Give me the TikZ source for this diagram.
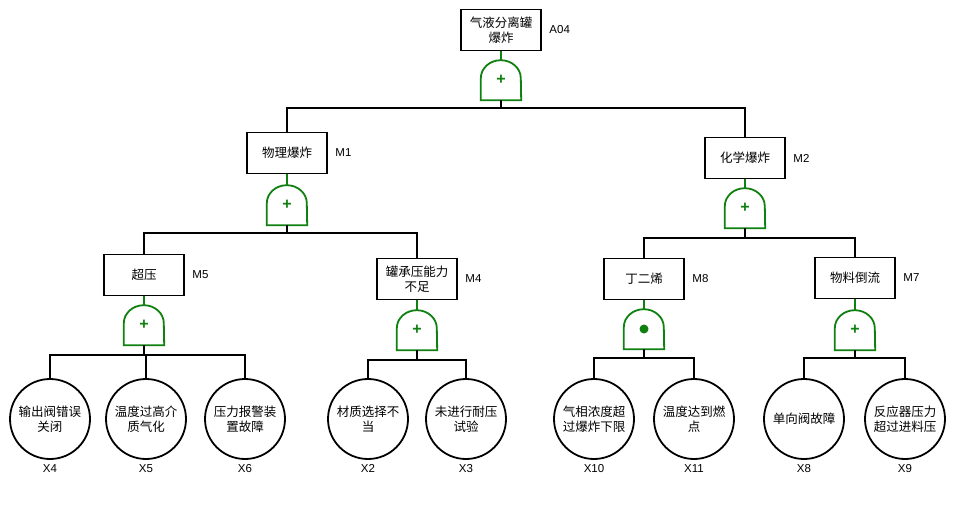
\documentclass[tikz,border=0pt]{standalone}
\usepackage{fontspec}
\setmainfont{Liberation Sans}
\newfontfamily\cjk{Noto Sans CJK SC}
\usetikzlibrary{positioning}
\definecolor{GateGreen}{RGB}{16,128,16}
\newcommand{\gateshape}[1]{\draw[gateline] (#1.south west) -- ++(0pt,22pt)
  arc[start angle=180, end angle=0, x radius=20pt, y radius=18pt] -- (#1.south east) -- cycle;}

\begin{document}
\begin{tikzpicture}[
  x=1pt, y=-1pt,
  event/.style={rectangle, draw=black, line width=1.8pt, align=center,
                minimum width=80pt, minimum height=41pt, inner sep=1pt,
                font=\cjk\fontsize{12.5}{14.5}\selectfont},
  basic/.style={circle, draw=black, line width=1.8pt, align=center,
                minimum size=80pt, inner sep=0pt,
                font=\cjk\fontsize{12.5}{14.5}\selectfont},
  orgate/.style={minimum width=40pt, minimum height=40pt, inner sep=0pt,
                 text=GateGreen, font=\bfseries\fontsize{16}{16}\selectfont},
  gateline/.style={draw=GateGreen, line width=1.8pt},
  link/.style={draw=black, line width=1.8pt},
  tag/.style={font=\fontsize{11.5}{13}\selectfont, label distance=4pt},
  leaftag/.style={font=\fontsize{11.5}{13}\selectfont, label distance=1.5pt}
]
\useasboundingbox (0,0) rectangle (954,520);

% top event
\node[event, label={[tag]right:A04}] (top) at (501,30) {气液分离罐\\爆炸};
\node[orgate] (g0) at (501,80) {+};
\gateshape{g0}
\coordinate (b0) at (501,108);

% second level
\node[event, label={[tag]right:M1}] (m1) at (287,153) {物理爆炸};
\node[orgate] (g1) at (287,205) {+};
\gateshape{g1}
\coordinate (b1) at (287,233);

\node[event, label={[tag]right:M2}] (m2) at (745,158) {化学爆炸};
\node[orgate] (g2) at (745,208) {+};
\gateshape{g2}
\coordinate (b2) at (745,238);

% third level
\node[event, label={[tag]right:M5}] (m5) at (144,275) {超压};
\node[orgate] (g5) at (144,325) {+};
\gateshape{g5}
\coordinate (b5) at (144,355);

\node[event, label={[tag]right:M4}] (m4) at (417,279) {罐承压能力\\不足};
\node[orgate] (g4) at (417,330) {+};
\gateshape{g4}
\coordinate (b4) at (417,360);

\node[event, label={[tag]right:M8}] (m8) at (644,279) {丁二烯};
\node[orgate] (g8) at (644,329) {};
\gateshape{g8}
\fill[GateGreen] (g8.center) circle (4.5pt);
\coordinate (b8) at (644,358);

\node[event, label={[tag]right:M7}] (m7) at (855,278) {物料倒流};
\node[orgate] (g7) at (855,330) {+};
\gateshape{g7}
\coordinate (b7) at (855,358);

% basic events
\node[basic, label={[leaftag]below:X4}] (x4) at (50,419) {输出阀错误\\关闭};
\node[basic, label={[leaftag]below:X5}] (x5) at (146,419) {温度过高介\\质气化};
\node[basic, label={[leaftag]below:X6}] (x6) at (245,419) {压力报警装\\置故障};
\node[basic, label={[leaftag]below:X2}] (x2) at (368,419) {材质选择不\\当};
\node[basic, label={[leaftag]below:X3}] (x3) at (466,419) {未进行耐压\\试验};
\node[basic, label={[leaftag]below:X10}] (x10) at (594,419) {气相浓度超\\过爆炸下限};
\node[basic, label={[leaftag]below:X11}] (x11) at (694,419) {温度达到燃\\点};
\node[basic, label={[leaftag]below:X8}] (x8) at (804,419) {单向阀故障};
\node[basic, label={[leaftag]below:X9}] (x9) at (905,419) {反应器压力\\超过进料压};

% event to gate
\draw[gateline] (top) -- (g0);
\draw[gateline] (m1) -- (g1);
\draw[gateline] (m2) -- (g2);
\draw[gateline] (m5) -- (g5);
\draw[gateline] (m4) -- (g4);
\draw[gateline] (m8) -- (g8);
\draw[gateline] (m7) -- (g7);

% gate to children
\draw[link] (g0.south) -- (b0);
\draw[link] (b0) -| (m1.north);
\draw[link] (b0) -| (m2.north);
\draw[link] (g1.south) -- (b1);
\draw[link] (b1) -| (m5.north);
\draw[link] (b1) -| (m4.north);
\draw[link] (g2.south) -- (b2);
\draw[link] (b2) -| (m8.north);
\draw[link] (b2) -| (m7.north);
\draw[link] (g5.south) -- (b5);
\draw[link] (b5) -| (x4.north);
\draw[link] (b5) -| (x5.north);
\draw[link] (b5) -| (x6.north);
\draw[link] (g4.south) -- (b4);
\draw[link] (b4) -| (x2.north);
\draw[link] (b4) -| (x3.north);
\draw[link] (g8.south) -- (b8);
\draw[link] (b8) -| (x10.north);
\draw[link] (b8) -| (x11.north);
\draw[link] (g7.south) -- (b7);
\draw[link] (b7) -| (x8.north);
\draw[link] (b7) -| (x9.north);
\end{tikzpicture}
\end{document}
